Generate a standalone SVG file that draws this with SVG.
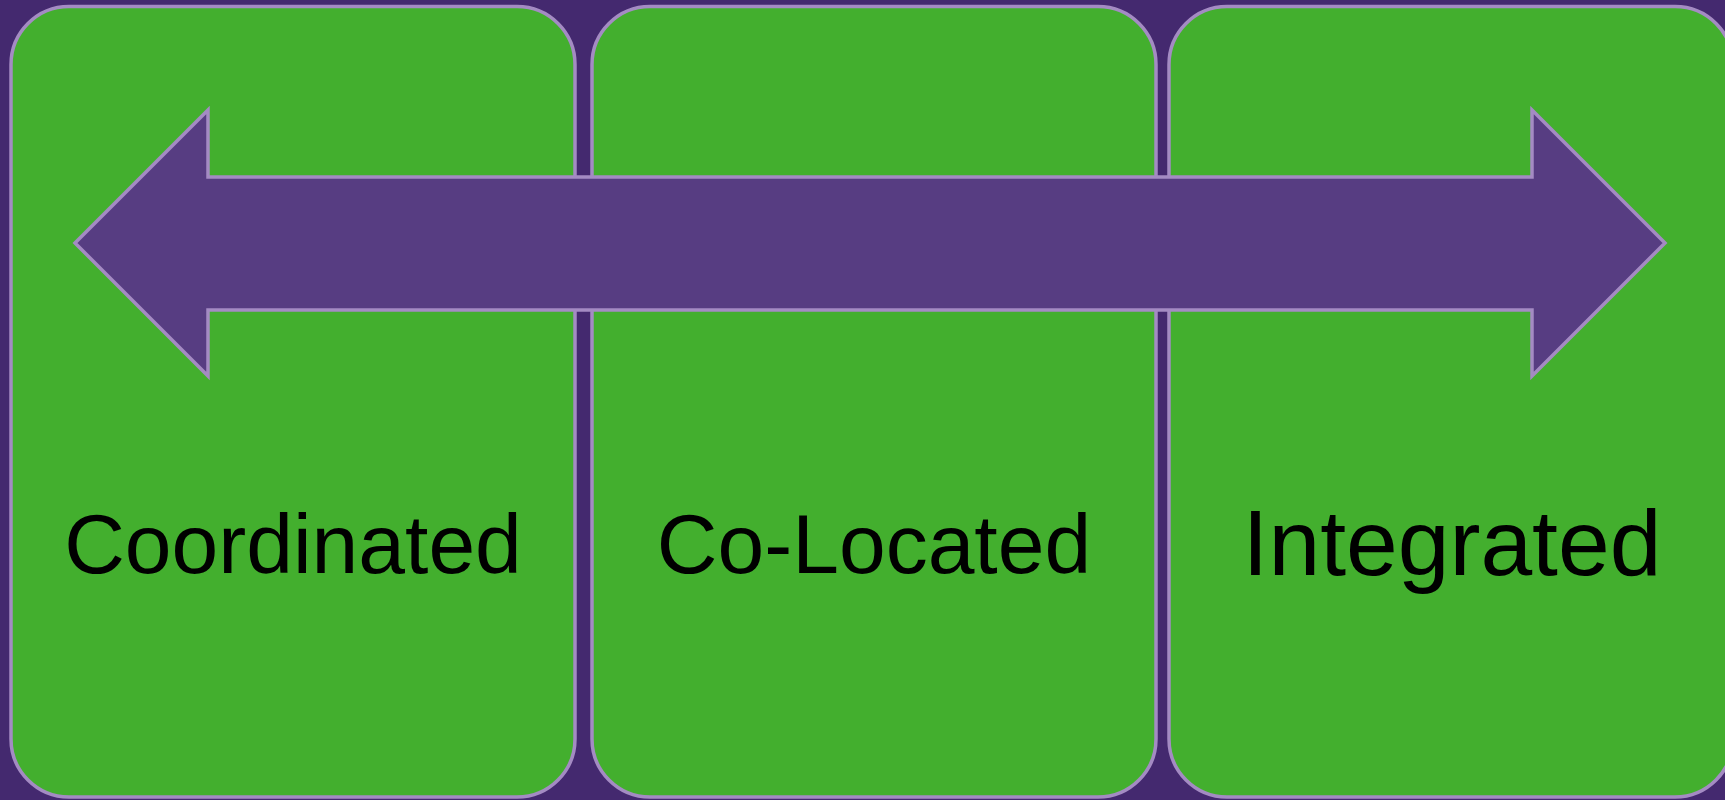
<svg xmlns="http://www.w3.org/2000/svg" width="1725" height="800" viewBox="0 0 1725 800">
<style>
.box{fill:#43AF2E;stroke:#A48BC3;stroke-width:3.5}
.lbl{font-family:"Liberation Sans",Arial,sans-serif;fill:#000;text-anchor:middle}
.arrow{fill:#573D82;stroke:#A48BC3;stroke-width:3.5;stroke-linejoin:miter}
</style>
<rect x="0" y="0" width="1725" height="800" fill="#44296F"/>
<g id="node-coordinated">
<rect class="box" x="11" y="6.5" width="564" height="790.5" rx="58" ry="58"/>
<text class="lbl" x="293" y="573" font-size="84">Coordinated</text>
</g>
<g id="node-colocated">
<rect class="box" x="592" y="6.5" width="564" height="790.5" rx="58" ry="58"/>
<text class="lbl" x="874" y="573" font-size="84">Co-Located</text>
</g>
<g id="node-integrated">
<rect class="box" x="1169" y="6.5" width="564" height="790.5" rx="58" ry="58"/>
<text class="lbl" x="1452" y="575" font-size="93">Integrated</text>
</g>
<g id="connectors">
<polygon class="arrow" points="75,243 208,110 208,177 1532,177 1532,110 1665,243 1532,376 1532,310 208,310 208,376"/>
</g>
</svg>
